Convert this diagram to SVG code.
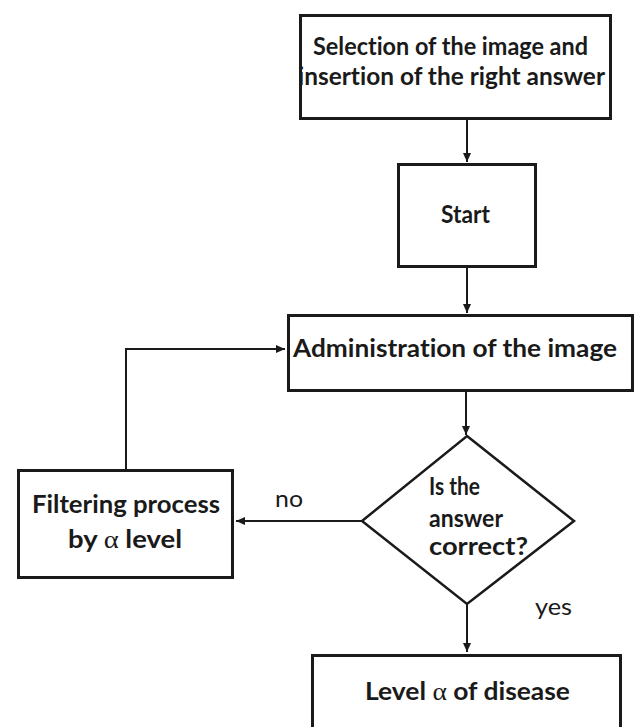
<svg xmlns="http://www.w3.org/2000/svg" width="635" height="727" viewBox="0 0 635 727">
<style>
.box{fill:#fff;stroke:#1a1a1a;stroke-width:3}
.dia{fill:#fff;stroke:#1a1a1a;stroke-width:2.5}
.con{fill:none;stroke:#1a1a1a;stroke-width:2}
.t{font-family:Lato,"Liberation Sans",sans-serif;font-weight:bold;font-size:24px;fill:#1a1a1a;font-variant-ligatures:none}
.l{font-family:Lato,"Liberation Sans",sans-serif;font-size:24px;fill:#1a1a1a}
.a{font-family:"Liberation Serif",serif;font-weight:normal;font-size:25px}
</style>
<defs>
<marker id="ah" markerUnits="userSpaceOnUse" markerWidth="10" markerHeight="9" refX="9" refY="4" orient="auto">
<path d="M0,0 L9,4 L0,8 z" fill="#1a1a1a"/>
</marker>
</defs>
<rect width="635" height="727" fill="#fff"/>
<g id="connectors">
<line class="con" x1="467" y1="120" x2="467" y2="162" marker-end="url(#ah)"/>
<line class="con" x1="467" y1="268" x2="467" y2="313" marker-end="url(#ah)"/>
<line class="con" x1="466" y1="392" x2="466" y2="435" marker-end="url(#ah)"/>
<line class="con" x1="362" y1="521" x2="236" y2="521" marker-end="url(#ah)"/>
<polyline class="con" points="126,469 126,349 285,349" marker-end="url(#ah)"/>
<line class="con" x1="467" y1="604" x2="467" y2="652" marker-end="url(#ah)"/>
<text class="l" x="275" y="507" textLength="28" lengthAdjust="spacingAndGlyphs">no</text>
<text class="l" x="535" y="615" textLength="37" lengthAdjust="spacingAndGlyphs">yes</text>
</g>
<g id="selection">
<rect class="box" x="300.5" y="15.5" width="310" height="103"/>
<text class="t" x="313" y="55" textLength="275" lengthAdjust="spacingAndGlyphs">Selection of the image and</text>
<text class="t" x="298" y="85" textLength="307" lengthAdjust="spacingAndGlyphs">insertion of the right answer</text>
</g>
<g id="start">
<rect class="box" x="398.5" y="164.5" width="137" height="102"/>
<text class="t" x="441" y="223" textLength="49" lengthAdjust="spacingAndGlyphs">Start</text>
</g>
<g id="administration">
<rect class="box" x="288.5" y="315.5" width="344" height="75"/>
<text class="t" x="293" y="357" textLength="324" lengthAdjust="spacingAndGlyphs">Administration of the image</text>
</g>
<g id="decision">
<polygon class="dia" points="467,436 574,521 467,604 362,521"/>
<text class="t" x="429" y="495" textLength="51" lengthAdjust="spacingAndGlyphs">Is the</text>
<text class="t" x="429" y="527" textLength="74" lengthAdjust="spacingAndGlyphs">answer</text>
<text class="t" x="429" y="555" textLength="99" lengthAdjust="spacingAndGlyphs">correct?</text>
</g>
<g id="filtering">
<rect class="box" x="18.5" y="470.5" width="214" height="107"/>
<text class="t" x="32" y="513" textLength="188" lengthAdjust="spacingAndGlyphs">Filtering process</text>
<text class="t" x="68" y="548" textLength="114" lengthAdjust="spacingAndGlyphs">by <tspan class="a">α</tspan> level</text>
</g>
<g id="level">
<rect class="box" x="312.5" y="655.5" width="308" height="80"/>
<text class="t" x="365" y="700" textLength="205" lengthAdjust="spacingAndGlyphs">Level <tspan class="a">α</tspan> of disease</text>
</g>
</svg>
